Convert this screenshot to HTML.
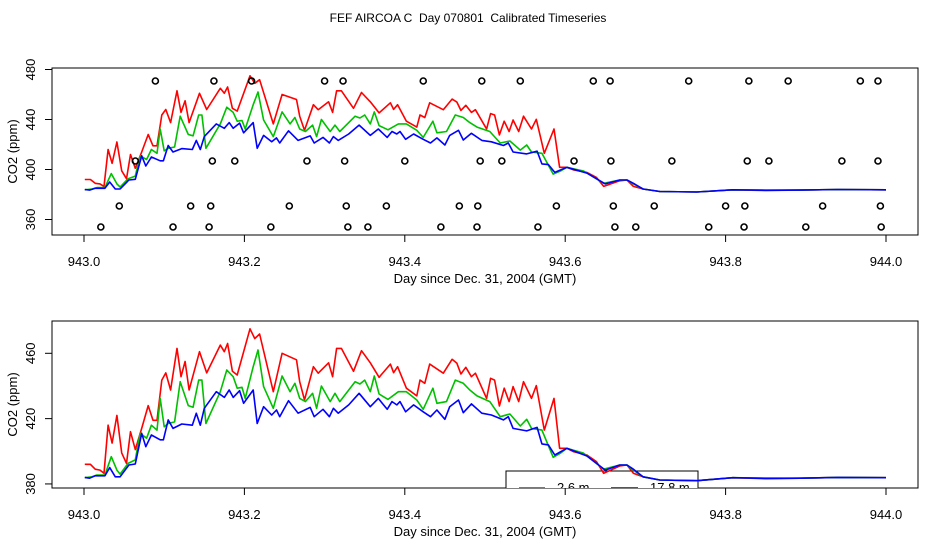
<!DOCTYPE html>
<html><head><meta charset="utf-8">
<style>
html,body{margin:0;padding:0;background:#fff;}
svg{display:block;font-family:"Liberation Sans",Arial,sans-serif;}
</style></head>
<body>
<svg id="chart" width="936" height="540" viewBox="0 0 936 540">
<defs>
<clipPath id="clipTop"><rect x="52" y="68" width="866" height="167"/></clipPath>
<clipPath id="clipBot"><rect x="52" y="321" width="866" height="167"/></clipPath>
</defs>
<text x="468" y="22" text-anchor="middle" font-size="12" style="white-space:pre">FEF AIRCOA C  Day 070801  Calibrated Timeseries</text>
<g id="top"></g>
<g id="bot"></g>
</svg>
<script>
// data: day offsets from 943.0, CO2 values (ppm)
const redDays=[.001,.008,.014,.020,.025,.030,.035,.041,.047,.053,.058,.064,.072,.080,.086,.091,.097,.102,.108,.116,.121,.126,.131,.144,.153,.170,.175,.179,.185,.191,.207,.213,.219,.236,.247,.265,.269,.275,.286,.292,.305,.310,.315,.321,.336,.346,.357,.368,.382,.386,.391,.402,.415,.419,.425,.431,.448,.459,.465,.470,.476,.483,.488,.502,.507,.512,.518,.524,.530,.535,.542,.548,.558,.564,.574,.586,.593,.602,.610,.627,.639,.648,.668,.677,.685,.697,.718,.764,.809,.850,.893,.940,1.0];
const red=[392,392,389,388.5,386.5,416,405,422,399,392.6,412,401,414,428,419,419,443.6,448,437.5,463,445.7,455,437.5,461,448,465,461,466,449,446.7,475,469,471.8,436.5,460,456,442.6,431.4,451.8,447.8,454.2,445.7,463,463,449,461.6,454.2,445.3,453.4,448.1,451.8,438.6,433.9,443.6,441.6,453.4,447.8,456.3,453.9,447.3,451.4,445.7,447.8,432.4,444.7,443.6,427.7,438.6,430.4,439.6,430.4,442.6,432.4,440.2,413,432.4,401.8,401.8,399.8,397.7,393.6,386.5,391,391.6,386.5,384.4,382.4,382,383.8,383.2,383.5,384,383.8];
const greenDays=[.001,.010,.016,.026,.034,.041,.045,.055,.064,.070,.078,.084,.091,.095,.100,.105,.113,.120,.130,.136,.143,.147,.152,.170,.178,.186,.191,.197,.201,.211,.217,.224,.236,.247,.257,.263,.269,.276,.285,.290,.296,.307,.313,.319,.338,.344,.350,.357,.362,.368,.379,.392,.402,.415,.423,.435,.440,.452,.463,.473,.481,.490,.506,.519,.531,.544,.552,.558,.571,.585,.594,.602,.623,.648,.668,.677,.685,.697,.718,.764,.809,.850,.893,.940,1.0];
const green=[383.8,384.4,385.5,385.5,396.7,388.5,386,392.6,394.7,411,408,416,413,432.4,415,417,418,442.6,428,427,443.6,443.6,417,436.5,449.8,445.7,438.6,439.2,432.4,451.8,462,439.6,426.3,446.1,436.5,441.6,432.4,430.4,435.5,426.3,440,430.4,435.5,430.4,442.6,441.2,443.6,436.5,446.1,435.1,431.8,436.5,436.5,431.4,425.7,438.6,429.4,430.4,443.6,441.6,437.5,433.9,430.4,421.2,422.8,415.5,419.6,414,413,396.3,398.8,401.8,398.8,389,391.6,391.6,388.5,384.4,382.4,382,383.8,383.6,383.5,384,383.8];
const blueDays=[.001,.007,.014,.026,.032,.039,.045,.056,.064,.072,.077,.084,.095,.099,.105,.111,.122,.135,.140,.145,.150,.165,.175,.181,.186,.194,.199,.211,.216,.224,.234,.240,.244,.255,.267,.282,.287,.298,.306,.311,.317,.330,.343,.357,.367,.378,.384,.390,.394,.401,.411,.423,.432,.440,.450,.456,.467,.473,.483,.496,.508,.523,.529,.535,.552,.565,.571,.579,.587,.602,.627,.650,.668,.677,.685,.697,.718,.764,.809,.850,.893,.940,1.0];
const blue=[384,383.5,385,385,390,384.4,384.4,391.6,392.2,411,402.8,410,407,407,419.2,414,416.7,416,423.3,416,426.3,436.5,433,437.5,433,437.1,429.4,437.5,417,427.3,422.2,425.3,421.2,431,423.3,426.9,421.2,425.7,421.2,426.3,423.3,428.4,435.5,427.3,432.4,425.7,430.4,428.4,430.4,424.2,428.4,424.2,421.2,425.3,419.6,427.3,431.4,423.6,429,423.3,422.2,419.2,421.2,414,412.5,414.6,404.5,403.9,397.7,401.8,397.1,388.5,391.6,391.6,389,384.4,382.4,382,383.8,383.4,383.5,384,383.8];
const circleDays=[.089,.162,.209,.300,.323,.423,.496,.544,.635,.656,.754,.829,.878,.968,.990,
.064,.160,.188,.278,.325,.400,.494,.521,.611,.657,.733,.827,.854,.945,.990,
.044,.133,.158,.256,.327,.377,.468,.491,.589,.660,.711,.800,.824,.921,.993,
.021,.111,.156,.233,.329,.354,.445,.490,.566,.662,.688,.779,.823,.900,.994];
const circleVals=[470.8,470.8,470.8,470.8,470.8,470.8,470.8,470.8,470.8,470.8,470.8,470.8,470.8,470.8,470.8,
406.8,406.8,406.8,406.8,406.8,406.8,406.8,406.8,406.8,406.8,406.8,406.8,406.8,406.8,406.8,
370.8,370.8,370.8,370.8,370.8,370.8,370.8,370.8,370.8,370.8,370.8,370.8,370.8,370.8,370.8,
354,354,354,354,354,354,354,354,354,354,354,354,354,354,354];
const xTicks=[943.0,943.2,943.4,943.6,943.8,944.0];
const xTickLabels=["943.0","943.2","943.4","943.6","943.8","944.0"];
const yTicksTop=[360,400,440,480];
const yTicksBot=[380,420,460];

const NS="http://www.w3.org/2000/svg";
function mk(tag,attrs,parent){const e=document.createElementNS(NS,tag);for(const k in attrs)e.setAttribute(k,attrs[k]);parent.appendChild(e);return e;}
const xScale=d=>84+(d-943)*802;

function panel(g,box,yScale,yTicks,clipId,showCircles,showLegend){
  const r=mk('rect',{x:box.x,y:box.y,width:box.w,height:box.h,fill:'none',stroke:'#000','stroke-width':1},g);
  
  
  const yb=box.y+box.h;
  xTicks.forEach((t,i)=>{
    const x=xScale(t);
    const l=mk('line',{x1:x,y1:yb,x2:x,y2:yb+7,stroke:'#000'},g);
    
    
    const tx=mk('text',{x:x,y:yb+31,'text-anchor':'middle','font-size':13},g);
    tx.textContent=xTickLabels[i];
    
    
  });
  const xt=mk('text',{x:485,y:yb+48,'text-anchor':'middle','font-size':13},g);
  xt.textContent='Day since Dec. 31, 2004 (GMT)';
  
  
  const yl=mk('line',{x1:box.x,y1:yScale(yTicks[0]),x2:box.x,y2:yScale(yTicks[yTicks.length-1]),stroke:'#000'},g);
  
  
  yTicks.forEach(t=>{
    const y=yScale(t);
    const l=mk('line',{x1:box.x-7,y1:y,x2:box.x,y2:y,stroke:'#000'},g);
    
    
    const tx=mk('text',{x:box.x-17,y:y,'text-anchor':'middle','font-size':13,transform:`rotate(-90 ${box.x-17} ${y})`},g);
    tx.textContent=String(t);
    
    
  });
  const cy=box.y+box.h/2;
  const yt=mk('text',{x:17,y:cy,'text-anchor':'middle','font-size':13,transform:`rotate(-90 17 ${cy})`},g);
  yt.textContent='CO2 (ppm)';
  
  
  const plot=mk('g',{'clip-path':`url(#${clipId})`},g);
  
  
  if(showLegend){
    const lg=mk('g',{},plot);
    
    
    mk('rect',{x:506,y:471,width:192,height:40,fill:'#fff',stroke:'#000'},lg);
    const l1=mk('line',{x1:519,y1:488,x2:545,y2:488,stroke:'#ff0000','stroke-width':1.6},lg);
    
    
    const t1=mk('text',{x:557,y:492,'font-size':13},lg);t1.textContent='2.6 m';
    
    
    const l2=mk('line',{x1:611,y1:488,x2:638,y2:488,stroke:'#0000ff','stroke-width':1.6},lg);
    
    
    const t2=mk('text',{x:650,y:492,'font-size':13},lg);t2.textContent='17.8 m';
    
    
  }
  const series=[[redDays,red,'#ff0000','red-series'],[greenDays,green,'#00c000','green-series'],[blueDays,blue,'#0000ff','blue-series']];
  series.forEach(s=>{
    const pts=s[0].map((d,i)=>xScale(943+d).toFixed(1)+','+yScale(s[1][i]).toFixed(1)).join(' ');
    const p=mk('polyline',{points:pts,fill:'none',stroke:s[2],'stroke-width':1.6,'stroke-linejoin':'round'},plot);
    
    
  });
  if(showCircles){
    circleDays.forEach((d,i)=>{
      const c=mk('circle',{cx:xScale(943+d),cy:yScale(circleVals[i]),r:3,fill:'none',stroke:'#000','stroke-width':1.6},plot);
      
      
    });
  }
}
panel(document.getElementById('top'),{x:52,y:68,w:866,h:167},v=>69.5+(480-v)*1.25,yTicksTop,'clipTop',true,false);
panel(document.getElementById('bot'),{x:52,y:321,w:866,h:167},v=>353.3+(460-v)*1.633,yTicksBot,'clipBot',false,true);
</script>
</body></html>
